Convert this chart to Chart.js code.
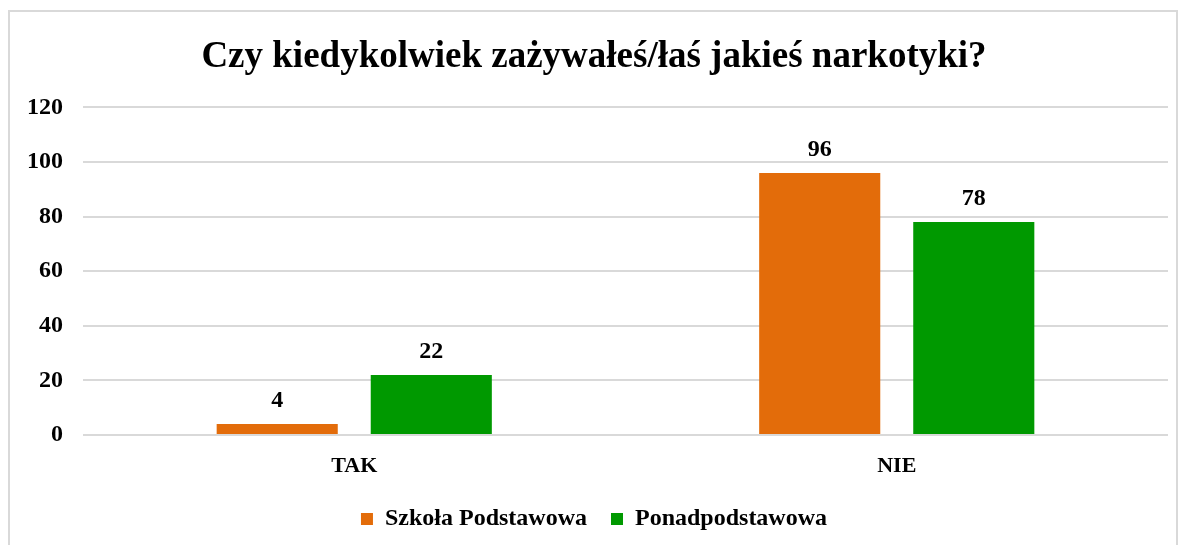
<!DOCTYPE html>
<html>
<head>
<meta charset="utf-8">
<script src="https://cdn.jsdelivr.net/npm/chart.js@4"></script>
<style>
    html, body { margin: 0; padding: 0; background: #fff; }
    #frame {
        position: absolute; left: 8px; top: 10px;
        width: 1166px; height: 545px;
        border: 2px solid #d9d9d9; border-bottom: none;
    }
    #wrap { position: absolute; left: 0; top: 0; width: 1185px; height: 545px; }
</style>
</head>
<body>
<div id="frame"></div>
<div id="wrap"><canvas id="chart"></canvas></div>
<script>
// Data
const categories = ['TAK', 'NIE'];
const seriesNames = ['Szkoła Podstawowa', 'Ponadpodstawowa'];
const primaryValues = [4, 96];
const secondaryValues = [22, 78];
const yTicks = [0, 20, 40, 60, 80, 100, 120];

const serif = "'Liberation Serif', 'Times New Roman', serif";
const orange = '#e36c0a';
const green = '#009900';
const gridColor = '#d9d9d9';

// Value labels above each bar
const barLabels = {
    id: 'barLabels',
    afterDatasetsDraw(chart) {
        const ctx = chart.ctx;
        ctx.save();
        ctx.font = 'bold 24px ' + serif;
        ctx.fillStyle = '#000';
        ctx.textAlign = 'center';
        ctx.textBaseline = 'bottom';
        chart.data.datasets.forEach((ds, i) => {
            chart.getDatasetMeta(i).data.forEach((bar, j) => {
                ctx.fillText(ds.data[j], bar.x, bar.y - 11);
            });
        });
        ctx.restore();
    }
};

new Chart(document.getElementById('chart'), {
    type: 'bar',
    data: {
        labels: categories,
        datasets: [
            { label: seriesNames[0], data: primaryValues, backgroundColor: orange },
            { label: seriesNames[1], data: secondaryValues, backgroundColor: green },
        ]
    },
    options: {
        responsive: true,
        maintainAspectRatio: false,
        animation: false,
        categoryPercentage: 0.568,
        barPercentage: 0.786,
        layout: { padding: { left: 20, right: 17, top: 35, bottom: 4 } },
        scales: {
            x: {
                afterFit: (scale) => { scale.height = 48; },
                grid: { display: false },
                border: { display: false },
                ticks: { color: '#000', font: { family: serif, size: 22, weight: 'bold' }, padding: 10 },
            },
            y: {
                min: 0, max: 120,
                afterBuildTicks: (scale) => { scale.ticks = yTicks.map(v => ({ value: v })); },
                afterFit: (scale) => { scale.width = 63; },
                grid: { color: gridColor, lineWidth: 2, drawTicks: false },
                border: { display: false },
                ticks: { color: '#000', font: { family: serif, size: 24, weight: 'bold' }, padding: 20 },
            }
        },
        plugins: {
            title: {
                display: true,
                text: 'Czy kiedykolwiek zażywałeś/łaś jakieś narkotyki?',
                color: '#000',
                font: { family: serif, size: 37, weight: 'bold' },
                padding: { top: 0, bottom: 28 },
            },
            legend: {
                position: 'bottom',
                labels: {
                    color: '#000',
                    font: { family: serif, size: 24, weight: 'bold' },
                    boxWidth: 12,
                    boxHeight: 12,
                    padding: 24,
                },
            },
            tooltip: { enabled: false },
        }
    },
    plugins: [barLabels]
});
</script>
</body>
</html>
